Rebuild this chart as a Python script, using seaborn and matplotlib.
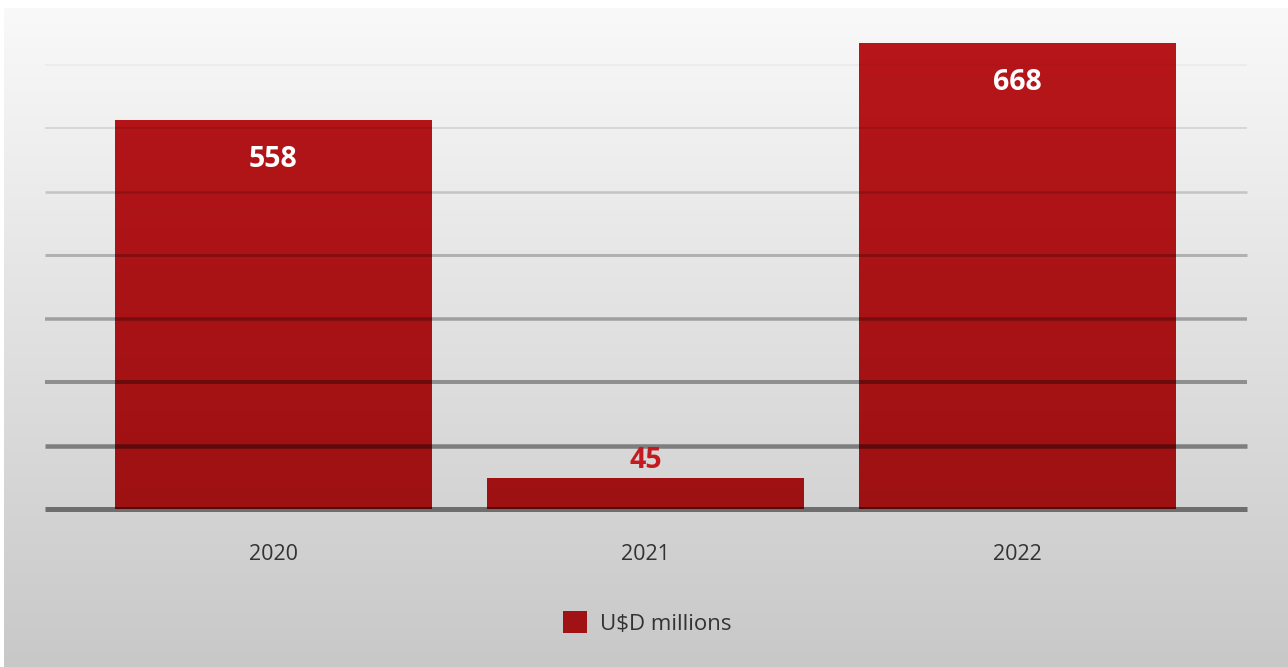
import numpy as np
import matplotlib
matplotlib.use("Agg")
import matplotlib.pyplot as plt
from matplotlib.patches import Patch
from matplotlib.colors import LinearSegmentedColormap
import seaborn as sns

# Data
years = ["2020", "2021", "2022"]
values = [558, 45, 668]
series_name = "U$D millions"
grid_values = [0, 91, 182, 273, 364, 455, 546, 637]

sns.set_theme(style="white")
plt.rcParams["font.family"] = ["Open Sans", "DejaVu Sans"]

W, H, DPI = 1288, 667, 100
fig = plt.figure(figsize=(W / DPI, H / DPI), dpi=DPI)
fig.patch.set_facecolor("white")

# Soft grey panel behind the chart
bg = fig.add_axes([4 / W, 0, 1 - 4 / W, (H - 8) / H], zorder=-5)
bg_cmap = LinearSegmentedColormap.from_list("panel", ["#f9f9f9", "#c8c8c8"])
bg.imshow(np.linspace(0, 1, 256).reshape(-1, 1), cmap=bg_cmap, aspect="auto",
          extent=[0, 1, 0, 1], origin="upper")
bg.set_axis_off()

# Plot area
ymax = 700
px_per_unit = 466 / 668
ax_h = ymax * px_per_unit
ax = fig.add_axes([45 / W, (H - 509) / H, (1247 - 45) / W, ax_h / H])
ax.patch.set_alpha(0)

bar_color = "#a91416"
sns.barplot(x=years, y=values, color=bar_color, width=0.852, saturation=1,
            linewidth=0, edgecolor="none", ax=ax, zorder=2)

# Vertical red gradient on each bar
bar_cmap = LinearSegmentedColormap.from_list("bars", ["#9e1113", "#b8161a"])
grad = np.linspace(0, 1, 256).reshape(-1, 1)
for p in ax.patches:
    x0, w = p.get_x(), p.get_width()
    im = ax.imshow(grad, cmap=bar_cmap, aspect="auto", origin="lower",
                   extent=[x0, x0 + w, 0, ymax], zorder=2.1)
    im.set_clip_path(p)
ax.set_xlim(-0.614, 2.617)
ax.set_ylim(0, ymax)

# Gridlines drawn over the bars, darker and thicker towards the base
n = len(grid_values)
alphas = np.linspace(0.48, 0.04, n)
widths_px = np.linspace(5, 1.5, n)
for gv, a, wpx in zip(grid_values, alphas, widths_px):
    ax.axhline(gv, color="black", alpha=a, lw=wpx * 72 / DPI, zorder=3,
               clip_on=False, solid_capstyle="butt")

# Value labels
for i, v in enumerate(values):
    inside = v > 0.2 * max(values)
    ax.annotate(f"{v}", xy=(i, v), xytext=(0, -40 if inside else 17),
                textcoords="offset pixels", ha="center", va="center",
                color="white" if inside else "#c41a1f", zorder=4,
                fontsize=20.5, fontweight="bold")

for s in ax.spines.values():
    s.set_visible(False)
ax.set_yticks([])
ax.set_xlabel("")
ax.set_ylabel("")
ax.tick_params(axis="x", length=0, pad=25, labelsize=15.5, labelcolor="#333333")

# Legend
handle = Patch(facecolor="#a01214", edgecolor="none", label=series_name)
fig.legend(handles=[handle], loc="center", bbox_to_anchor=(647 / W, (H - 623) / H),
           frameon=False, fontsize=16, handlelength=1.1, handleheight=1.1,
           handletextpad=0.55, labelcolor="#333333")

fig.savefig("out.png", dpi=DPI)
